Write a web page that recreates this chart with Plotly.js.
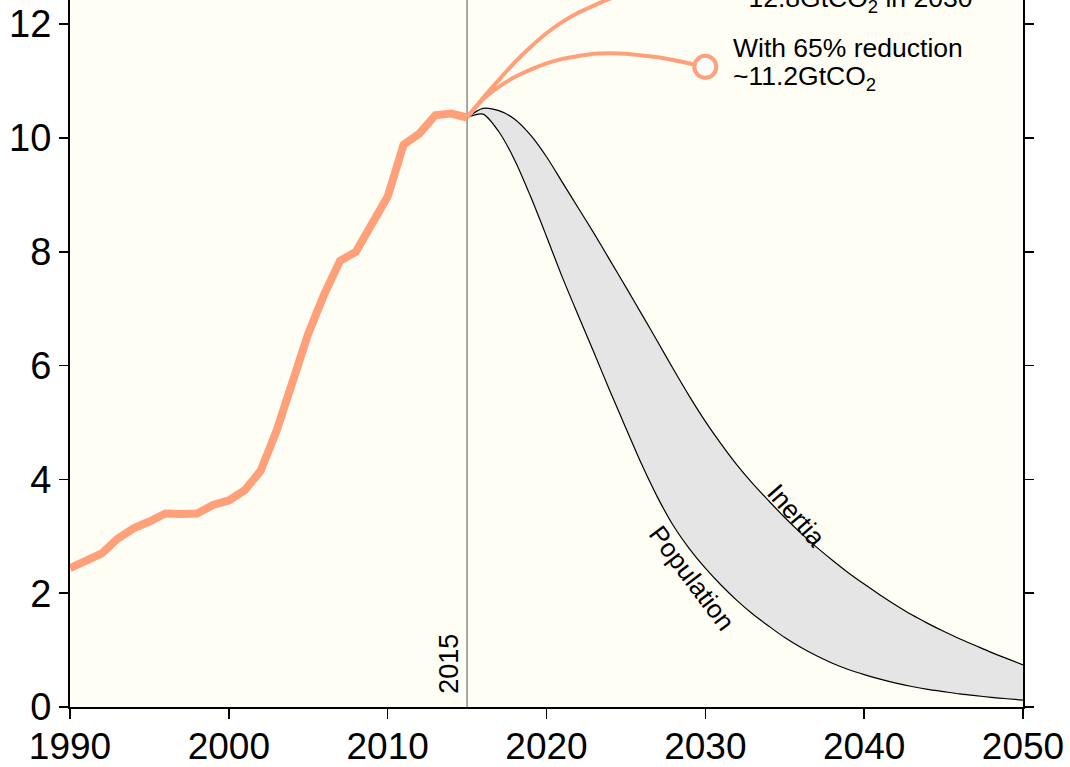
<!DOCTYPE html>
<html>
<head>
<meta charset="utf-8">
<script src="https://cdn.plot.ly/plotly-3.0.1.min.js"></script>
<style>
  html, body { margin: 0; padding: 0; background: #ffffff; }
  #chart { width: 1070px; height: 767px; }
</style>
</head>
<body>
<div id="chart"></div>
<script>
// Historical emissions (GtCO2)
const histYears = [1990,1991,1992,1993,1994,1995,1996,1997,1998,1999,2000,2001,2002,2003,2004,2005,2006,2007,2008,2009,2010,2011,2012,2013,2014,2015];
const histCO2 = [2.44,2.57,2.70,2.96,3.14,3.26,3.40,3.39,3.40,3.55,3.63,3.81,4.15,4.85,5.68,6.56,7.25,7.84,8.00,8.47,8.97,9.88,10.08,10.40,10.43,10.36];

// Projections to 2030
const projYears = [2015,2016,2017,2018,2019,2020,2021,2022,2023,2024,2025,2026,2027,2028,2029,2030];
const projHigh = [10.36,10.70,11.02,11.33,11.60,11.84,12.04,12.20,12.33,12.45,12.55,12.63,12.69,12.74,12.78,12.80];
const projLow65 = [10.36,10.68,10.90,11.07,11.20,11.31,11.39,11.44,11.48,11.49,11.48,11.45,11.42,11.37,11.31,11.25];

// Fan (Population lower bound, Inertia upper bound)
const fanYears = [2015,2016,2017,2018,2019,2020,2021,2022,2023,2024,2025,2026,2027,2028,2029,2030,2031,2032,2033,2034,2035,2036,2037,2038,2039,2040,2041,2042,2043,2044,2045,2046,2047,2048,2049,2050];
const inertia = [10.36,10.52,10.48,10.33,10.05,9.67,9.22,8.77,8.32,7.85,7.38,6.90,6.42,5.93,5.46,5.02,4.62,4.25,3.92,3.62,3.33,3.06,2.81,2.58,2.36,2.16,1.97,1.79,1.62,1.47,1.33,1.20,1.08,0.96,0.85,0.74];
const population = [10.36,10.42,10.11,9.61,8.97,8.27,7.55,6.88,6.22,5.55,4.90,4.26,3.68,3.18,2.78,2.44,2.14,1.87,1.63,1.42,1.22,1.05,0.90,0.77,0.66,0.57,0.49,0.42,0.36,0.31,0.27,0.23,0.20,0.17,0.145,0.12];

// Endpoint markers
const endYears = [2030, 2030];
const endValues = [12.8, 11.25];

const xTicks = [1990, 2000, 2010, 2020, 2030, 2040, 2050];
const yTicks = [0, 2, 4, 6, 8, 10, 12];

const salmon = '#FFA07A';
const FONT = '"Liberation Sans", Arial, Helvetica, sans-serif';

const traces = [
  { x: fanYears, y: population, type: 'scatter', mode: 'lines',
    line: { color: '#000000', width: 1.2, shape: 'spline', smoothing: 0.8 }, hoverinfo: 'skip', showlegend: false },
  { x: fanYears, y: inertia, type: 'scatter', mode: 'lines', fill: 'tonexty',
    fillcolor: '#e5e5e5', line: { color: '#000000', width: 1.2, shape: 'spline', smoothing: 0.8 }, hoverinfo: 'skip', showlegend: false },
  { x: projYears, y: projHigh, type: 'scatter', mode: 'lines',
    line: { color: salmon, width: 4, shape: 'spline' }, hoverinfo: 'skip', showlegend: false },
  { x: projYears, y: projLow65, type: 'scatter', mode: 'lines',
    line: { color: salmon, width: 4, shape: 'spline' }, hoverinfo: 'skip', showlegend: false },
  { x: histYears, y: histCO2, type: 'scatter', mode: 'lines',
    line: { color: salmon, width: 8 }, hoverinfo: 'skip', showlegend: false },
  { x: endYears, y: endValues, type: 'scatter', mode: 'markers',
    marker: { size: 22, color: '#fdfdff', line: { color: salmon, width: 4 } },
    hoverinfo: 'skip', showlegend: false }
];

const txt = (size) => ({ size: size, family: FONT, color: '#000000' });

const layout = {
  width: 1070, height: 767,
  margin: { l: 70, r: 47, t: 0, b: 60 },
  paper_bgcolor: '#ffffff',
  plot_bgcolor: '#fffef5',
  font: { family: FONT, color: '#000000' },
  showlegend: false,
  xaxis: {
    range: [1990, 2050], tickvals: xTicks, ticktext: xTicks.map(String),
    showgrid: false, zeroline: false, showline: true, linecolor: '#000000', linewidth: 2,
    ticks: 'outside', ticklen: 10, tickwidth: 1.5, tickcolor: '#000000',
    tickfont: txt(37), mirror: false, ticklabelstandoff: -4
  },
  yaxis: {
    range: [0, 12.425], tickvals: yTicks, ticktext: yTicks.map(String),
    showgrid: false, zeroline: false, showline: true, linecolor: '#000000', linewidth: 2,
    ticks: 'outside', ticklen: 9, tickwidth: 1.5, tickcolor: '#000000',
    tickfont: txt(38), mirror: 'ticks'
  },
  shapes: [
    { type: 'line', xref: 'x', yref: 'paper', x0: 2015, x1: 2015, y0: 0, y1: 1,
      line: { color: '#8c8c8c', width: 1.5 }, layer: 'below' }
  ],
  annotations: [
    { xref: 'x', yref: 'y', x: 2015, y: 0.2, text: '2015', textangle: -90,
      xanchor: 'right', yanchor: 'bottom', showarrow: false, xshift: -1,
      font: txt(27) },
    { xref: 'x', yref: 'y', x: 2031.62, y: 11.58, text: 'With 65% reduction',
      xanchor: 'left', yanchor: 'middle', align: 'left', showarrow: false,
      font: txt(26.5) },
    { xref: 'x', yref: 'y', x: 2031.62, y: 11.05, text: '~11.2GtCO<sub>2</sub>',
      xanchor: 'left', yanchor: 'middle', align: 'left', showarrow: false,
      font: txt(26.5) },
    { xref: 'x', yref: 'paper', x: 2031.62, y: 1.0, text: '~12.8GtCO<sub>2</sub> in 2030',
      xanchor: 'left', yanchor: 'bottom', align: 'left', showarrow: false, yshift: -19,
      font: txt(26.5) },
    { xref: 'x', yref: 'y', x: 2035.71, y: 3.37, text: 'Inertia', textangle: 49,
      showarrow: false, font: txt(26) },
    { xref: 'x', yref: 'y', x: 2029.14, y: 2.26, text: 'Population', textangle: 53,
      showarrow: false, font: txt(26) }
  ]
};

Plotly.newPlot('chart', traces, layout, { displayModeBar: false, staticPlot: true });
</script>
</body>
</html>
